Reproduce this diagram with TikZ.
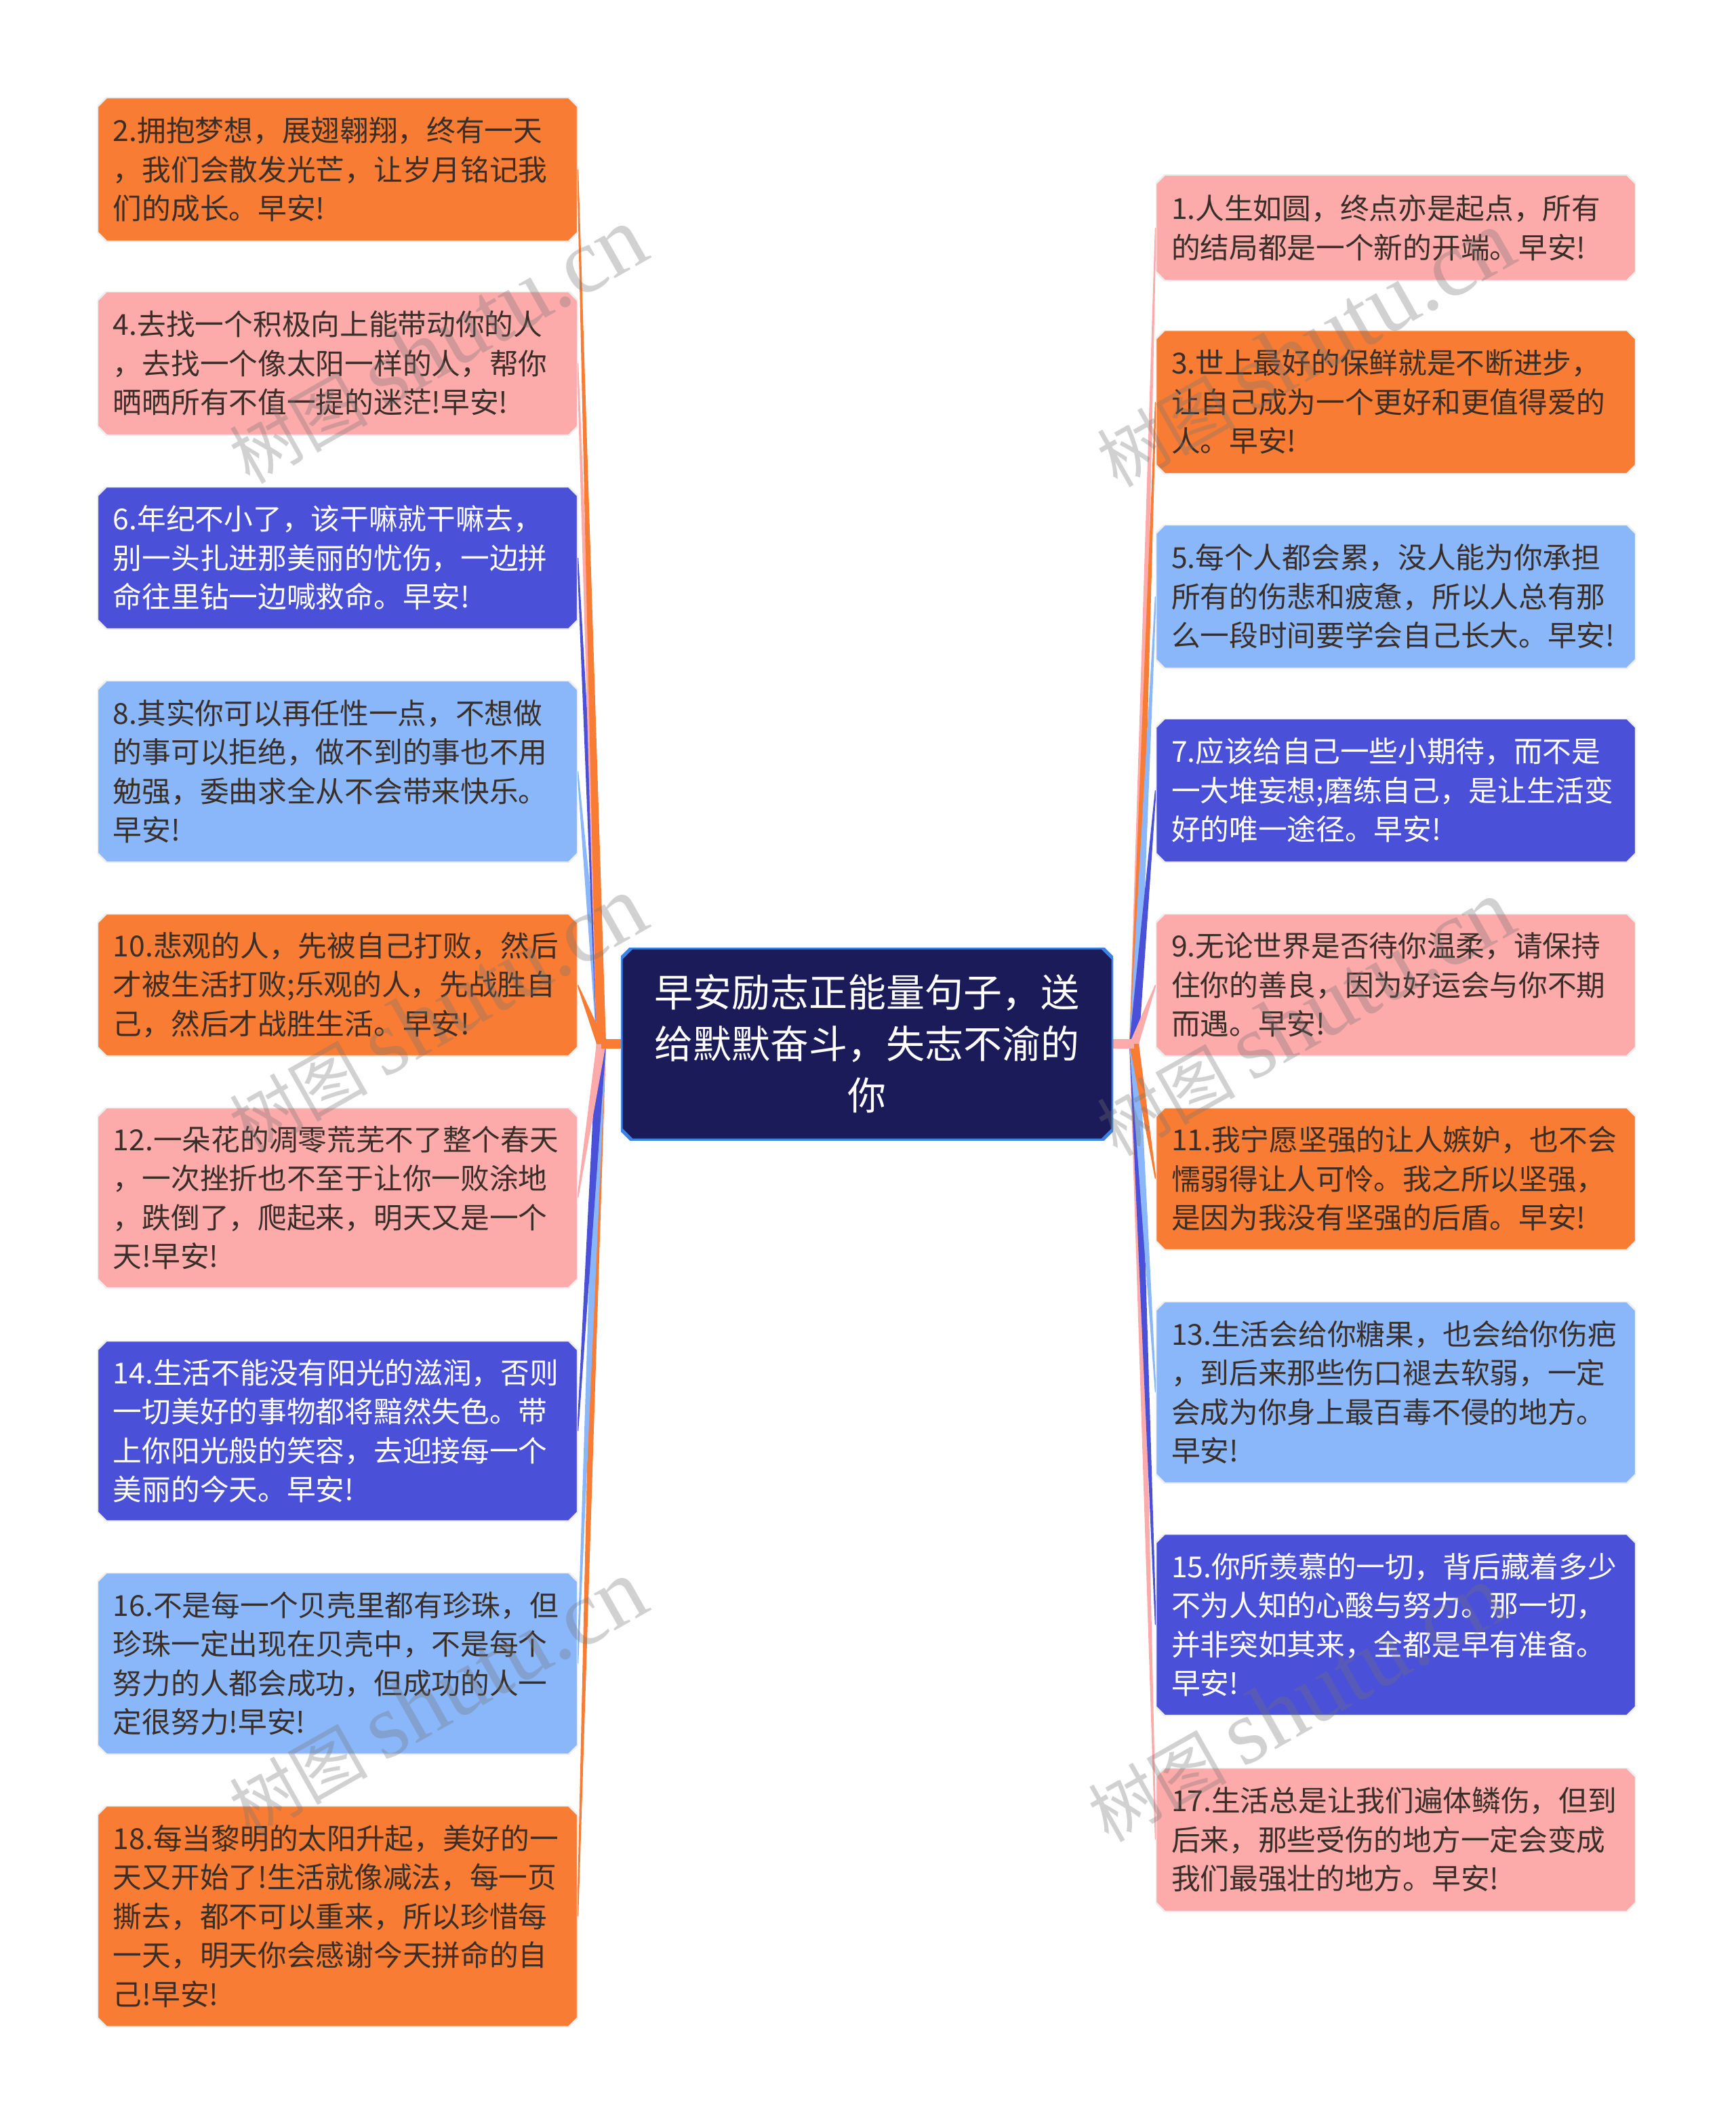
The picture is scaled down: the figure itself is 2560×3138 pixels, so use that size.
\documentclass[tikz,border=0pt]{standalone}
\usepackage{fontspec}
\newfontfamily\cjk{Noto Sans CJK SC}
\newfontfamily\wmlat{Liberation Serif}
\definecolor{cor}{HTML}{F97C34}
\definecolor{cpk}{HTML}{FDAAAA}
\definecolor{cbl}{HTML}{4A50D8}
\definecolor{clb}{HTML}{8AB7FA}
\definecolor{cnv}{HTML}{1B1B5A}
\definecolor{cbd}{HTML}{3C82E6}
\definecolor{ctx}{HTML}{3A2E28}
\pgfdeclarelayer{bg}
\pgfsetlayers{bg,main}
\newcommand\chamf[2]{%
 \filldraw[#1] ([xshift=#2]path picture bounding box.north west) -- ([xshift=-#2]path picture bounding box.north east) -- ([yshift=-#2]path picture bounding box.north east) -- ([yshift=#2]path picture bounding box.south east) -- ([xshift=-#2]path picture bounding box.south east) -- ([xshift=#2]path picture bounding box.south west) -- ([yshift=#2]path picture bounding box.south west) -- ([yshift=-#2]path picture bounding box.north west) -- cycle;}
\tikzset{
 boxbase/.style={rectangle, fill=white, inner sep=0pt, minimum width=708bp, text width=662bp, align=left,
   font=\cjk\fontsize{42.7bp}{57.5bp}\selectfont,
   path picture={\chamf{fill=#1,draw=black!7,line width=2.5bp}{13bp}}},
 org/.style={boxbase=cor, text=ctx},
 pnk/.style={boxbase=cpk, text=ctx},
 blu/.style={boxbase=cbl, text=white},
 lbl/.style={boxbase=clb, text=ctx},
 hh/.style={minimum height=#1},
 centerbox/.style={rectangle, fill=white, inner sep=0pt, minimum width=726bp, minimum height=284bp, text width=700bp, align=center, text=white,
   font=\cjk\fontsize{57bp}{76bp}\selectfont,
   path picture={\chamf{fill=cnv,draw=cbd,line width=5bp}{16bp}}},
 wm/.style={text=black!55, opacity=0.32, rotate=29.5, inner sep=0pt},
}
\begin{document}
\begin{tikzpicture}[x=1bp,y=-1bp]
\begin{pgfonlayer}{bg}
\fill[white] (0,0) rectangle (2560,3138);
\end{pgfonlayer}
\useasboundingbox (0,0) rectangle (2560,3138);

\node[centerbox] (c) at (1279,1540) {早安励志正能量句子，送\\给默默奋斗，失志不渝的\\你};
\coordinate (hubL) at (887,1540);
\coordinate (hubR) at (1673,1540);

% left
\node[org,hh=212bp] (n2) at (498,250) {2.拥抱梦想，展翅翱翔，终有一天\\，我们会散发光芒，让岁月铭记我\\们的成长。早安!};
\node[pnk,hh=212bp] (n4) at (498,536) {4.去找一个积极向上能带动你的人\\，去找一个像太阳一样的人，帮你\\晒晒所有不值一提的迷茫!早安!};
\node[blu,hh=210bp] (n6) at (498,823) {6.年纪不小了，该干嘛就干嘛去，\\别一头扎进那美丽的忧伤，一边拼\\命往里钻一边喊救命。早安!};
\node[lbl,hh=268bp] (n8) at (498,1138) {8.其实你可以再任性一点，不想做\\的事可以拒绝，做不到的事也不用\\勉强，委曲求全从不会带来快乐。\\早安!};
\node[org,hh=210bp] (n10) at (498,1453) {10.悲观的人，先被自己打败，然后\\才被生活打败;乐观的人，先战胜自\\己，然后才战胜生活。早安!};
\node[pnk,hh=266bp] (n12) at (498,1767) {12.一朵花的凋零荒芜不了整个春天\\，一次挫折也不至于让你一败涂地\\，跌倒了，爬起来，明天又是一个\\天!早安!};
\node[blu,hh=266bp] (n14) at (498,2111) {14.生活不能没有阳光的滋润，否则\\一切美好的事物都将黯然失色。带\\上你阳光般的笑容，去迎接每一个\\美丽的今天。早安!};
\node[lbl,hh=268bp] (n16) at (498,2454) {16.不是每一个贝壳里都有珍珠，但\\珍珠一定出现在贝壳中，不是每个\\努力的人都会成功，但成功的人一\\定很努力!早安!};
\node[org,hh=326bp] (n18) at (498,2827) {18.每当黎明的太阳升起，美好的一\\天又开始了!生活就像减法，每一页\\撕去，都不可以重来，所以珍惜每\\一天，明天你会感谢今天拼命的自\\己!早安!};

% right
\node[pnk,hh=156bp] (n1) at (2059,336) {1.人生如圆，终点亦是起点，所有\\的结局都是一个新的开端。早安!};
\node[org,hh=212bp] (n3) at (2059,593) {3.世上最好的保鲜就是不断进步，\\让自己成为一个更好和更值得爱的\\人。早安!};
\node[lbl,hh=212bp] (n5) at (2059,880) {5.每个人都会累，没人能为你承担\\所有的伤悲和疲惫，所以人总有那\\么一段时间要学会自己长大。早安!};
\node[blu,hh=212bp] (n7) at (2059,1166) {7.应该给自己一些小期待，而不是\\一大堆妄想;磨练自己，是让生活变\\好的唯一途径。早安!};
\node[pnk,hh=210bp] (n9) at (2059,1453) {9.无论世界是否待你温柔，请保持\\住你的善良，因为好运会与你不期\\而遇。早安!};
\node[org,hh=210bp] (n11) at (2059,1739) {11.我宁愿坚强的让人嫉妒，也不会\\懦弱得让人可怜。我之所以坚强，\\是因为我没有坚强的后盾。早安!};
\node[lbl,hh=268bp] (n13) at (2059,2054) {13.生活会给你糖果，也会给你伤疤\\，到后来那些伤口褪去软弱，一定\\会成为你身上最百毒不侵的地方。\\早安!};
\node[blu,hh=268bp] (n15) at (2059,2397) {15.你所羡慕的一切，背后藏着多少\\不为人知的心酸与努力。那一切，\\并非突如其来，全都是早有准备。\\早安!};
\node[pnk,hh=212bp] (n17) at (2059,2714) {17.生活总是让我们遍体鳞伤，但到\\后来，那些受伤的地方一定会变成\\我们最强壮的地方。早安!};

\begin{pgfonlayer}{bg}
\foreach \n/\col in {n18/cor,n16/clb,n14/cbl,n12/cpk,n8/clb,n6/cbl,n4/cpk,n2/cor,n10/cor}{
  \fill[\col] ([xshift=-7bp]hubL) -- ([xshift=-1bp]\n.east) -- ([xshift=1bp]\n.east) -- ([xshift=7bp]hubL) -- cycle;
}
\foreach \n/\col in {n17/cpk,n15/cbl,n13/clb,n11/cor,n1/cpk,n3/cor,n5/clb,n7/cbl,n9/cpk}{
  \fill[\col] ([xshift=-7bp]hubR) -- ([xshift=-1bp]\n.west) -- ([xshift=1bp]\n.west) -- ([xshift=7bp]hubR) -- cycle;
}
\fill[cor] ([yshift=-7bp]hubL) rectangle ([yshift=7bp]c.west);
\fill[cpk] ([yshift=-7bp]hubR) rectangle ([yshift=7bp]c.east);
\end{pgfonlayer}

% watermarks
\foreach \wx/\wy [count=\i] in {645/510,1925/515,645/1497,1925/1502,645/2505,1912/2514}{
  \node[wm] (w\i) at (\wx,\wy) {\cjk\fontsize{102bp}{102bp}\selectfont 树图 \wmlat\fontsize{136bp}{136bp}\selectfont shutu.cn};
}
\end{tikzpicture}
\end{document}
